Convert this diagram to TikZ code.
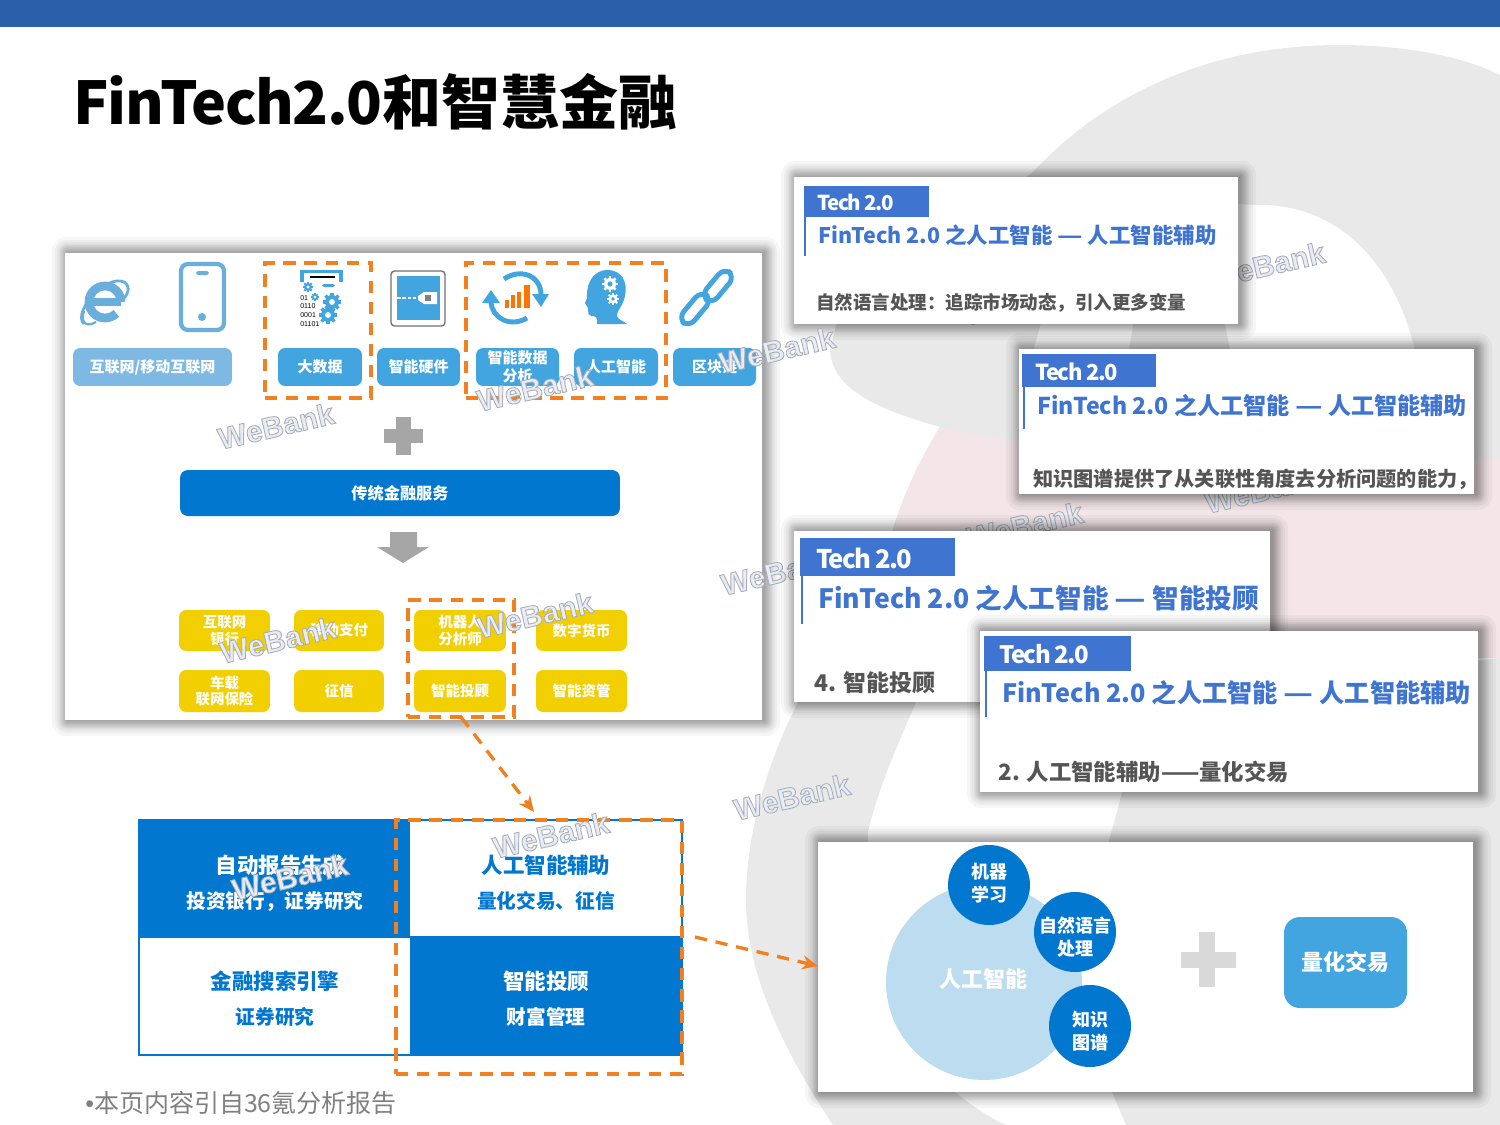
\documentclass[tikz,border=0pt]{standalone}
\usepackage{fontspec}
\usetikzlibrary{arrows.meta}
\setmainfont{Noto Sans CJK SC}
\newfontfamily\tightfont[LetterSpace=-2.5]{Noto Sans CJK SC}
\newfontfamily\tagfont[LetterSpace=-6.5]{Noto Sans CJK SC}
\newfontfamily\wmfont{Liberation Sans}
\newfontfamily\tinyfont{Liberation Sans}
\definecolor{topbar}{HTML}{2A60AA}
\definecolor{mainblue}{HTML}{0277D0}
\definecolor{skyblue}{HTML}{42A5E0}
\definecolor{paleblue}{HTML}{7DB9E2}
\definecolor{iconblue}{HTML}{6AAEDC}
\definecolor{tagblue}{HTML}{3F75D0}
\definecolor{bggray}{HTML}{E9E9E9}
\definecolor{bgpink}{HTML}{F4E6E8}
\definecolor{yellowbox}{HTML}{F2CF00}
\definecolor{dashorange}{HTML}{F08020}
\definecolor{bodygray}{HTML}{555555}
\definecolor{plusgray}{HTML}{A6A6A6}
\definecolor{pluslight}{HTML}{D9D9D9}
\definecolor{circlepale}{HTML}{BCDCEF}
\newcommand\fsl[2]{\fontsize{\fpeval{#2*0.569}pt}{\fpeval{#2*0.569*#1}pt}\selectfont}
\newcommand\fs[1]{\fsl{1.2}{#1}}
\newcommand\RN[7][]{%
  \pgfmathsetmacro\rnw{(#5-#3)*0.56906}%
  \pgfmathsetmacro\rnh{(#6-#4)*0.56906}%
  \node[rnbase,#1,minimum width=\rnw pt,minimum height=\rnh pt] (#2) at ({(#3+#5)/2},{(#4+#6)/2}) {#7};}
\newcommand\shadowrect[4]{%
  \foreach \s in {1,2,3,4,5,6,7,8,9,11,13,16}{%
    \fill[black,opacity=0.036,rounded corners=\s*0.5pt] ({#1-\s+3},{#2-\s}) rectangle ({#3+\s+2},{#4+\s});}}
\newcommand\gearico[5]{%
  \foreach \a in {0,45,...,315}{\draw[#4,line width=#3*0.26pt] (#1,#2) -- ++(\a:{1.3*#3});}
  \fill[#4] (#1,#2) circle (#3);
  \fill[#5] (#1,#2) circle ({0.42*#3});}
\newcommand\wm[3]{\node[wmstyle] (#1) at (#2,#3) {\special{pdf:code q 2 Tr 0.5 w 0.66 0.68 0.72 RG 0.91 0.93 0.96 rg}WeBank\special{pdf:code Q}};}
\newcommand\fintech{FinTech 2.0}
\newcommand\longdash{\scalebox{1.3}[1]{—}}
\tikzset{
  rnbase/.style={inner sep=0pt,outer sep=0pt,align=center},
  wmstyle/.style={rotate=13,font=\wmfont\bfseries\fs{30},inner sep=0pt},
  labelbox/.style={fill=skyblue,rounded corners=4pt,text=white,font=\bfseries\fsl{1.2}{15}},
  yellowcell/.style={fill=yellowbox,rounded corners=4pt,text=white,font=\bfseries\fsl{1.15}{14.5}},
  dashbox/.style={draw=dashorange,line width=1.9pt,dash pattern=on 7pt off 5pt},
  dashlink/.style={draw=dashorange,line width=1.9pt,dash pattern=on 7pt off 5pt,-{Stealth[length=9pt,width=8pt]}},
  cardbox/.style={fill=white},
  tagbox/.style={fill=tagblue},
  tagtext/.style={anchor=west,inner sep=0pt,text=white},
  titletext/.style={anchor=west,inner sep=0pt,text=tagblue},
  bodytext/.style={anchor=west,inner sep=0pt,text=bodygray},
  tagrule/.style={draw=tagblue,line width=0.8pt},
  quadcell/.style={fill=mainblue},
  qhead/.style={inner sep=0pt,font=\bfseries\fs{21.5}},
  qsub/.style={inner sep=0pt,font=\bfseries\fs{19.7}},
  bubbletext/.style={inner sep=0pt,align=center,text=white,font=\bfseries\fsl{1.25}{18}},
}
\begin{document}
\begin{tikzpicture}[x=0.02cm,y=-0.02cm]
\useasboundingbox (0,0) rectangle (1500,1125);
\begin{scope}
\clip (0,0) rectangle (1500,1125);
% background swooshes
\fill[bggray] (1032,173) .. controls (1090,110) and (1190,45) .. (1340,45) .. controls (1400,45) and (1460,55) .. (1500,75)
  -- (1500,560) -- (940,560) -- (940,427) .. controls (880,410) and (832,390) .. (830,350) -- (840,310) -- cycle;
\fill[white] (1200,190) .. controls (1225,205) and (1245,205) .. (1265,205) .. controls (1345,208) and (1395,270) .. (1414,347)
  -- (1420,400) -- (1240,400) -- (1225,324) -- cycle;
\fill[white] (1042,320) -- (1134,320) -- (1128,355) -- (1032,355) -- cycle;
\fill[bgpink] (940,427) .. controls (990,445) and (1200,455) .. (1500,460) -- (1500,658) -- (1000,660) -- (880,600)
  .. controls (880,560) and (900,490) .. (940,427) -- cycle;
\fill[bggray] (810,680) -- (925,680) .. controls (905,730) and (880,780) .. (868,832) .. controls (865,930) and (900,1050) .. (955,1092)
  .. controls (975,1108) and (990,1118) .. (1006,1125) -- (833,1125) .. controls (790,1060) and (746,980) .. (746,900)
  .. controls (746,830) and (770,750) .. (810,680) -- cycle;
\fill[bggray] (1140,700) .. controls (1135,740) and (1125,785) .. (1109,840) .. controls (1085,940) and (1090,1030) .. (1112,1092)
  -- (1126,1125) -- (1500,1125) -- (1500,658) -- cycle;
\end{scope}
% watermarks lying under the cards
\wm{wmA}{1267}{265}
\wm{wmB}{1025}{525}
\wm{wmD}{1263}{490}
\wm{wmE}{1022}{302}
\wm{wmF}{792}{797}
% top bar and title
\RN[fill=topbar]{topband}{0}{0}{1500}{27}{}
\node[anchor=west,inner sep=0pt,font=\bfseries\fs{59},text=black] (title) at (73,102) {{\tightfont\bfseries FinTech2.0}和智慧金融};
% ---- left panel
\shadowrect{65}{253}{762}{720}
\RN[cardbox]{leftpanel}{65}{253}{762}{720}{}
\wm{wmC}{779}{572}
% IE icon
\draw[iconblue,line width=5pt] (121,302) arc[start angle=0,end angle=-315,radius=16];
\draw[iconblue,line width=4pt] (90,302) -- (121,302);
\draw[iconblue,line width=1.6pt] (84,324) .. controls (72,312) and (106,274) .. (124,282) .. controls (132,287) and (127,296) .. (122,300);
\draw[iconblue,line width=1.3pt] (84,311) .. controls (80,322) and (86,328) .. (96,322);
% phone icon
\draw[iconblue,line width=2.4pt,rounded corners=4pt] (181,264) rectangle (224,330);
\fill[iconblue,rounded corners=1pt] (196,271) rectangle (209,275);
\fill[iconblue] (202,317) circle (4);
% big data icon
\fill[skyblue] (300,270) rectangle (343,273);
\fill[skyblue] (300,270) rectangle (304,282);
\fill[skyblue] (339,270) rectangle (343,282);
\draw[black,line width=0.7pt] (310,277) -- (335,277);
\fill[skyblue,rounded corners=1pt] (322,284) rectangle (335,287);
\gearico{308}{287}{4}{skyblue}{white}
\gearico{315}{297}{3}{skyblue}{white}
\gearico{332}{302}{7}{skyblue}{white}
\gearico{328}{315}{7}{skyblue}{white}
\node[inner sep=0pt,anchor=north west,text=black,align=left,font=\tinyfont\fsl{1.25}{7}] (bitstext) at (300,295) {01\\0110\\0001\\01101};
% hardware icon
\RN[fill=white,draw=black!55,line width=0.8pt,rounded corners=2pt]{hwframe}{391}{271}{445}{326}{}
\RN[fill=skyblue]{hwscreen}{397}{276}{440}{320}{}
\draw[white,line width=1.4pt,dash pattern=on 2pt off 1pt] (397,298) -- (418,298);
\fill[white] (418,296) -- (424,292) -- (437,292) -- (437,304) -- (424,304) -- (418,300) -- cycle;
\fill[black!50] (425,295) rectangle (431,301);
% data analysis icon
\draw[skyblue,line width=2.8pt] (504,279) .. controls (520,268) and (541,275) .. (541,295);
\fill[skyblue] (532,294) -- (549,294) -- (541,307) -- cycle;
\draw[skyblue,line width=2.8pt] (527,318) .. controls (510,328) and (492,318) .. (491,302);
\fill[skyblue] (482,303) -- (500,303) -- (491,290) -- cycle;
\fill[orange!90!red] (505,300) rectangle (509,308);
\fill[orange!90!red] (511,295) rectangle (515,308);
\fill[orange!90!red] (517,292) rectangle (521,308);
\fill[orange!90!red] (524,285) rectangle (530,308);
% head icon
\fill[skyblue] (597,324) .. controls (598,318) and (596,316) .. (592,316) .. controls (588,316) and (588,312) .. (588,308) -- (585,303)
  .. controls (585,301) and (587,300) .. (587,298) .. controls (586,280) and (596,270) .. (607,270)
  .. controls (622,270) and (628,282) .. (625,296) .. controls (623,306) and (616,312) .. (617,316)
  .. controls (618,320) and (624,321) .. (627,324) -- cycle;
\gearico{610}{284}{6}{white}{skyblue}
\gearico{613}{299}{4.5}{white}{skyblue}
% chain icon
\draw[skyblue,line width=2.8pt,rounded corners=5pt,rotate around={50:(718,286)}] (700,279) rectangle (736,293);
\draw[skyblue,line width=2.8pt,rounded corners=5pt,rotate around={50:(695,309)}] (677,302) rectangle (713,316);
% label boxes
\RN[labelbox,fill=paleblue]{lbA}{73}{348}{232}{386}{互联网/移动互联网}
\RN[labelbox]{lbB}{278}{348}{362}{386}{大数据}
\RN[labelbox]{lbC}{377}{348}{460}{386}{智能硬件}
\RN[labelbox]{lbD}{476}{348}{559}{386}{智能数据\\分析}
\RN[labelbox]{lbE}{574}{348}{658}{386}{人工智能}
\RN[labelbox]{lbF}{673}{348}{756}{386}{区块链}
\RN[dashbox]{dashA}{265}{263}{371}{398}{}
\RN[dashbox]{dashB}{466}{263}{666}{398}{}
% plus sign
\fill[plusgray] (396,417) rectangle (411,455);
\fill[plusgray] (384,429) rectangle (423,443);
% traditional bar
\RN[fill=mainblue,rounded corners=4.5pt,text=white,font=\bfseries\fs{16.2}]{tradbar}{180}{470}{620}{516}{传统金融服务}
% down arrow
\fill[plusgray] (390,532) -- (417,532) -- (417,547) -- (429,547) -- (403,563) -- (377,547) -- (390,547) -- cycle;
% yellow cells
\RN[yellowcell]{yA}{179}{610}{270}{651}{互联网\\银行}
\RN[yellowcell]{yB}{294}{610}{384}{651}{移动支付}
\RN[yellowcell]{yC}{414}{610}{506}{651}{机器人\\分析师}
\RN[yellowcell]{yD}{536}{610}{627}{651}{数字货币}
\RN[yellowcell]{yE}{179}{670}{270}{712}{车载\\联网保险}
\RN[yellowcell]{yF}{294}{670}{384}{712}{征信}
\RN[yellowcell]{yG}{414}{670}{506}{712}{智能投顾}
\RN[yellowcell]{yH}{536}{670}{627}{712}{智能资管}
\RN[dashbox]{dashC}{408}{600}{514}{717}{}
% ---- four quadrants
\draw[mainblue,line width=1.2pt] (139,820) rectangle (682,1055);
\RN[quadcell]{qTL}{139}{820}{410}{938}{}
\RN[quadcell]{qBR}{410}{936}{682}{1055}{}
\node[qhead,text=white] (tlA) at (280,865) {自动报告生成};
\node[qsub,text=white] (tlB) at (275,901) {投资银行，证券研究};
\node[qhead,text=mainblue] (trA) at (546,865) {人工智能辅助};
\node[qsub,text=mainblue] (trB) at (546,901) {量化交易、征信};
\node[qhead,text=mainblue] (blA) at (275,981) {金融搜索引擎};
\node[qsub,text=mainblue] (blB) at (275,1017) {证券研究};
\node[qhead,text=white] (brA) at (546,981) {智能投顾};
\node[qsub,text=white] (brB) at (546,1017) {财富管理};
\RN[dashbox]{dashD}{396}{820}{682}{1074}{}
% ---- cards
\shadowrect{794}{177}{1238}{324}
\RN[cardbox]{cardA}{794}{177}{1238}{324}{}
\RN[tagbox]{tagA}{804}{186}{929}{217}{}
\draw[tagrule] (805,217) -- (805,256);
\node[tagtext,font=\tagfont\bfseries\fs{20.5}] (tagAt) at (817,202) {Tech 2.0};
\node[titletext,font=\bfseries\fs{21.45}] (titleA) at (818,235) {\fintech\ 之人工智能 \longdash\ 人工智能辅助};
\node[bodytext,font=\bfseries\fs{18.5}] (bodyA) at (816,303) {自然语言处理：追踪市场动态，引入更多变量};

\shadowrect{1019}{349}{1474}{494}
\RN[cardbox]{cardB}{1019}{349}{1474}{494}{}
\RN[tagbox]{tagB}{1022}{354}{1156}{387}{}
\draw[tagrule] (1024,387) -- (1024,429);
\node[tagtext,font=\tagfont\bfseries\fs{22}] (tagBt) at (1035,372) {Tech 2.0};
\node[titletext,font=\bfseries\fs{23.15}] (titleB) at (1037,406) {\fintech\ 之人工智能 \longdash\ 人工智能辅助};
\node[bodytext,font=\bfseries\fs{20.2}] (bodyB) at (1033,479) {知识图谱提供了从关联性角度去分析问题的能力，};

\shadowrect{794}{531}{1270}{702}
\RN[cardbox]{cardC}{794}{531}{1270}{702}{}
\RN[tagbox]{tagC}{800}{538}{955}{576}{}
\draw[tagrule,line width=1.1pt] (802,576) -- (802,624);
\node[tagtext,font=\tagfont\bfseries\fs{25.6}] (tagCt) at (816,558) {Tech 2.0};
\node[titletext,font=\bfseries\fs{26.6}] (titleC) at (818,598) {\fintech\ 之人工智能 \longdash\ 智能投顾};
\node[bodytext,font=\bfseries\fs{23}] (bodyC) at (814,683) {4. 智能投顾};

\shadowrect{980}{631}{1478}{792}
\RN[cardbox]{cardD}{980}{631}{1478}{792}{}
\RN[tagbox]{tagD}{984}{636}{1131}{671}{}
\draw[tagrule] (986,671) -- (986,717);
\node[tagtext,font=\tagfont\bfseries\fs{24}] (tagDt) at (999,654) {Tech 2.0};
\node[titletext,font=\bfseries\fs{25.25}] (titleD) at (1002,693) {\fintech\ 之人工智能 \longdash\ 人工智能辅助};
\node[bodytext,font=\bfseries\fs{22.4}] (bodyD) at (998,772) {2. 人工智能辅助——量化交易};

% ---- circle panel
\shadowrect{818}{842}{1473}{1092}
\RN[cardbox]{cardE}{818}{842}{1473}{1092}{}
\fill[circlepale] (984,982) circle (98);
\node[inner sep=0pt,text=white,font=\bfseries\fs{22}] (aiText) at (983,979) {人工智能};
\fill[mainblue] (989,885) ellipse [x radius=41,y radius=40];
\fill[mainblue] (1075,932) ellipse [x radius=41,y radius=40];
\fill[mainblue] (1090,1026) ellipse [x radius=41,y radius=41];
\node[bubbletext] (mlText) at (989,883) {机器\\学习};
\node[bubbletext] (nlpText) at (1075,937) {自然语言\\处理};
\node[bubbletext] (kgText) at (1090,1031) {知识\\图谱};
\fill[pluslight] (1199,932) rectangle (1215,987);
\fill[pluslight] (1181,952) rectangle (1236,968);
\RN[fill=skyblue,rounded corners=9pt,text=white,font=\bfseries\fs{22}]{quantBox}{1284}{917}{1407}{1008}{量化交易}
% ---- connectors
\coordinate (aOneEnd) at (534,812);
\coordinate (aTwoStart) at (695,937);
\coordinate (aTwoEnd) at (818,966);
\draw[dashlink] (dashC.south) -- (aOneEnd);
\draw[dashlink] (aTwoStart) -- (aTwoEnd);
% watermarks lying over the content
\wm{wmG}{276}{426}
\wm{wmH}{535}{388}
\wm{wmI}{278}{640}
\wm{wmJ}{535}{615}
\wm{wmK}{777}{350}
\wm{wmL}{290}{877}
\wm{wmM}{551}{835}
% footnote
\node[anchor=west,inner sep=0pt,text=black!50,font=\fs{25}] (note) at (85,1103) {{\tinyfont •}本页内容引自36氪分析报告};
\end{tikzpicture}
\end{document}
